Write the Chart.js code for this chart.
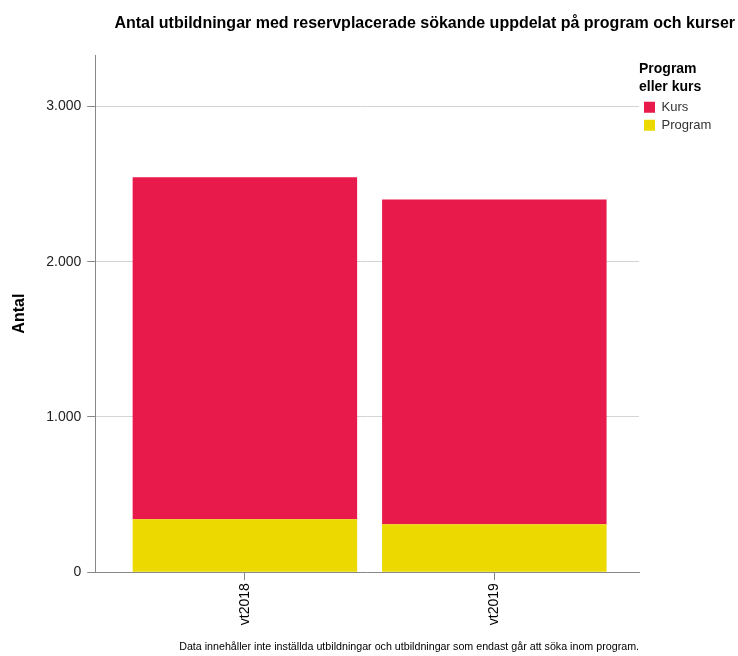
<!DOCTYPE html>
<html>
<head>
<meta charset="utf-8">
<script src="https://cdn.jsdelivr.net/npm/chart.js@4"></script>
<style>
  body { margin: 0; background: #fff; }
  #wrap { width: 738px; height: 656px; }
</style>
</head>
<body>
<div id="wrap"><canvas id="chart" width="738" height="656"></canvas></div>
<script>
// terminer (kategorier) och deras plats på x-axeln
const categories = ['vt2018', 'vt2019'];
const catPos = [0, 1];
// antal utbildningar per typ
const programValues = [341, 309];
const kursValues = [2202, 2092];
const yTicks = [0, 1000, 2000, 3000];

const RED = '#e8194b';
const YELLOW = '#ebd900';
const FONT = "'Liberation Sans', Arial, sans-serif";

// legend box gets a fixed width so its items sit right at the plot edge
const legendWidth = {
    id: 'legendWidth',
    beforeLayout(chart) {
	const lg = chart.legend;
	if (lg && !lg._wide) {
	    const fit = lg.fit;
	    lg.fit = function () { fit.call(this); this.width = 96; };
	    lg._wide = true;
	}
    }
};

function toPoints(values) {
    return values.map((v, i) => ({ x: catPos[i], y: v }));
}

function fmt(v) {
    return String(v).replace(/\B(?=(\d{3})+(?!\d))/g, '.');
}

const ctx = document.getElementById('chart').getContext('2d');
const chart = new Chart(ctx, {
    type: 'bar',
    data: {
	datasets: [
	    { label: 'Program', data: toPoints(programValues), backgroundColor: YELLOW, borderWidth: 0 },
	    { label: 'Kurs', data: toPoints(kursValues), backgroundColor: RED, borderWidth: 0 }
	]
    },
    options: {
	responsive: false,
	animation: false,
	categoryPercentage: 1,
	barPercentage: 0.9,
	layout: { padding: { top: 0, right: 3, bottom: 0, left: 0 } },
	plugins: {
	    title: {
		display: true,
		text: 'Antal utbildningar med reservplacerade sökande uppdelat på program och kurser',
		align: 'end',
		color: '#000',
		font: { family: FONT, size: 16, weight: 'bold' },
		padding: { top: 14, bottom: 22 }
	    },
	    subtitle: {
		display: true,
		position: 'bottom',
		align: 'end',
		fullSize: false,
		text: 'Data innehåller inte inställda utbildningar och utbildningar som endast går att söka inom program.',
		color: '#000',
		font: { family: FONT, size: 10.7 },
		padding: { top: 12, bottom: 3 }
	    },
	    legend: {
		position: 'right',
		align: 'start',
		fullSize: false,
		reverse: true,
		title: {
		    display: true,
		    text: ['Program', 'eller kurs'],
		    position: 'start',
		    color: '#000',
		    font: { family: FONT, size: 14, weight: 'bold', lineHeight: 1.25 },
		    padding: { top: 7, bottom: 16 }
		},
		labels: {
		    boxWidth: 11,
		    boxHeight: 11,
		    padding: 5,
		    color: '#333',
		    font: { family: FONT, size: 13 }
		}
	    },
	    tooltip: { enabled: false }
	},
	scales: {
	    x: {
		type: 'linear',
		stacked: true,
		offset: false,
		min: -0.6,
		max: 1.58,
		afterBuildTicks: (scale) => { scale.ticks = catPos.map(v => ({ value: v })); },
		ticks: {
		    callback: (v) => categories[catPos.indexOf(v)],
		    minRotation: 90,
		    maxRotation: 90,
		    padding: 3,
		    color: '#000',
		    font: { family: FONT, size: 14 }
		},
		grid: { offset: false, drawOnChartArea: false, tickLength: 8, tickColor: '#888' },
		border: { color: '#888', width: 1 }
	    },
	    y: {
		stacked: true,
		min: 0,
		max: 3330,
		afterBuildTicks: (scale) => { scale.ticks = yTicks.map(v => ({ value: v })); },
		ticks: {
		    callback: (v) => fmt(v),
		    padding: 6,
		    color: '#222',
		    font: { family: FONT, size: 14 }
		},
		grid: { color: '#d4d4d4', tickLength: 8, tickColor: '#888' },
		border: { color: '#888', width: 1 },
		title: {
		    display: true,
		    text: 'Antal',
		    color: '#000',
		    font: { family: FONT, size: 16, weight: 'bold' },
		    padding: { top: 10, bottom: 11 }
		}
	    }
	}
    },
    plugins: [legendWidth]
});
</script>
</body>
</html>
